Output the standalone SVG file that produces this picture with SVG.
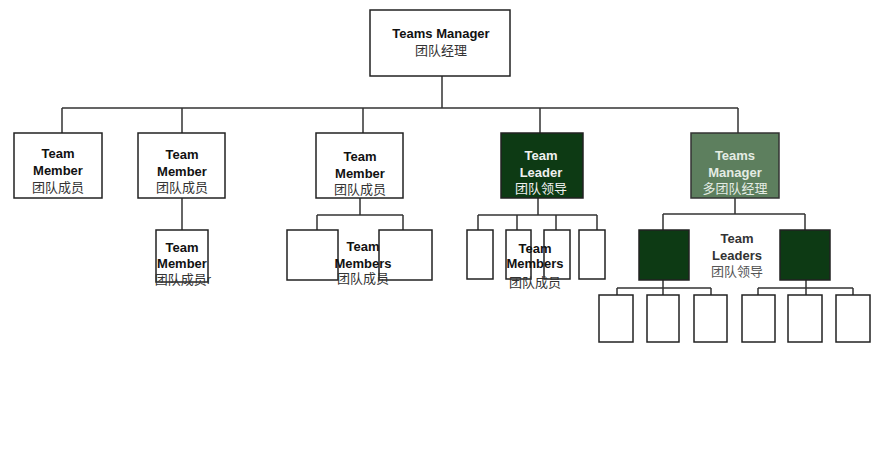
<svg xmlns="http://www.w3.org/2000/svg" width="884" height="472" viewBox="0 0 884 472">
<style>
.b{fill:#fff;stroke:#222;stroke-width:1.5}
.dk{fill:#0d3a14;stroke:#222;stroke-width:1.5}
.gr{fill:#5d7f5e;stroke:#333;stroke-width:1.5}
.c{fill:none;stroke:#333;stroke-width:1.5}
text{font-family:"Liberation Sans",Arial,"Noto Sans CJK SC",sans-serif;font-size:13px;text-anchor:middle}
.en{font-weight:bold;fill:#111}
.zh{fill:#333}
.w{fill:#f0f0f0}
.lg{fill:#e4ece4}
</style>
<rect width="884" height="472" fill="#fff"/>
<g id="connectors">
<path class="c" d="M442 76V108M62 108H738M62 108V133M182 108V133M363 108V133M540 108V133M738 108V133"/>
<path class="c" d="M182 198V230"/>
<path class="c" d="M360 198V215M317 215H403M317 215V230M403 215V230"/>
<path class="c" d="M538 198V215M478 215H597M478 215V230M517 215V230M556 215V230M597 215V230"/>
<path class="c" d="M735 198V214M663 214H805M663 214V230M805 214V230"/>
<path class="c" d="M663 280V288M617 288H711M617 288V295M663 288V295M711 288V295"/>
<path class="c" d="M806 280V288M758 288H853M758 288V295M806 288V295M853 288V295"/>
</g>
<g id="teams-manager">
<rect class="b" x="370" y="10" width="140" height="66"/>
<text class="en" x="441" y="38">Teams Manager</text>
<text class="zh" x="441" y="55">团队经理</text>
</g>
<g id="member1">
<rect class="b" x="14" y="133" width="88" height="65"/>
<text class="en" x="58" y="158">Team</text>
<text class="en" x="58" y="175">Member</text>
<text class="zh" x="58" y="192">团队成员</text>
</g>
<g id="member2">
<rect class="b" x="138" y="133" width="87" height="65"/>
<text class="en" x="182" y="159">Team</text>
<text class="en" x="182" y="176">Member</text>
<text class="zh" x="182" y="192">团队成员</text>
</g>
<g id="member2-child">
<rect class="b" x="156" y="230" width="52" height="52"/>
<text class="en" x="182" y="252">Team</text>
<text class="en" x="182" y="268">Member</text>
<text class="zh" x="183" y="284">团队成员r</text>
</g>
<g id="member3">
<rect class="b" x="316" y="133" width="87" height="65"/>
<text class="en" x="360" y="161">Team</text>
<text class="en" x="360" y="178">Member</text>
<text class="zh" x="360" y="194">团队成员</text>
</g>
<g id="member3-children">
<rect class="b" x="287" y="230" width="51" height="50"/>
<rect class="b" x="379" y="230" width="53" height="50"/>
<text class="en" x="363" y="251">Team</text>
<text class="en" x="363" y="268">Members</text>
<text class="zh" x="363" y="283">团队成员</text>
</g>
<g id="team-leader">
<rect class="dk" x="501" y="133" width="82" height="65"/>
<text class="en w" x="541" y="160">Team</text>
<text class="en w" x="541" y="177">Leader</text>
<text class="w" x="541" y="193">团队领导</text>
</g>
<g id="leader-members">
<rect class="b" x="467" y="230" width="26" height="49"/>
<rect class="b" x="506" y="230" width="25" height="49"/>
<rect class="b" x="544" y="230" width="26" height="49"/>
<rect class="b" x="579" y="230" width="26" height="49"/>
<text class="en" x="535" y="253">Team</text>
<text class="en" x="535" y="268">Members</text>
<text class="zh" x="535" y="287">团队成员</text>
</g>
<g id="teams-manager-2">
<rect class="gr" x="691" y="133" width="88" height="65"/>
<text class="en lg" x="735" y="160">Teams</text>
<text class="en lg" x="735" y="177">Manager</text>
<text class="lg" x="735" y="193">多团队经理</text>
</g>
<g id="team-leaders">
<rect class="dk" x="639" y="230" width="50" height="50"/>
<rect class="dk" x="780" y="230" width="50" height="50"/>
<text class="en" x="737" y="243" style="fill:#333">Team</text>
<text class="en" x="737" y="260" style="fill:#333">Leaders</text>
<text class="zh" x="737" y="276" style="fill:#555">团队领导</text>
</g>
<g id="leaders-members">
<rect class="b" x="599" y="295" width="34" height="47"/>
<rect class="b" x="647" y="295" width="32" height="47"/>
<rect class="b" x="694" y="295" width="33" height="47"/>
<rect class="b" x="742" y="295" width="33" height="47"/>
<rect class="b" x="788" y="295" width="34" height="47"/>
<rect class="b" x="836" y="295" width="34" height="47"/>
</g>
</svg>
